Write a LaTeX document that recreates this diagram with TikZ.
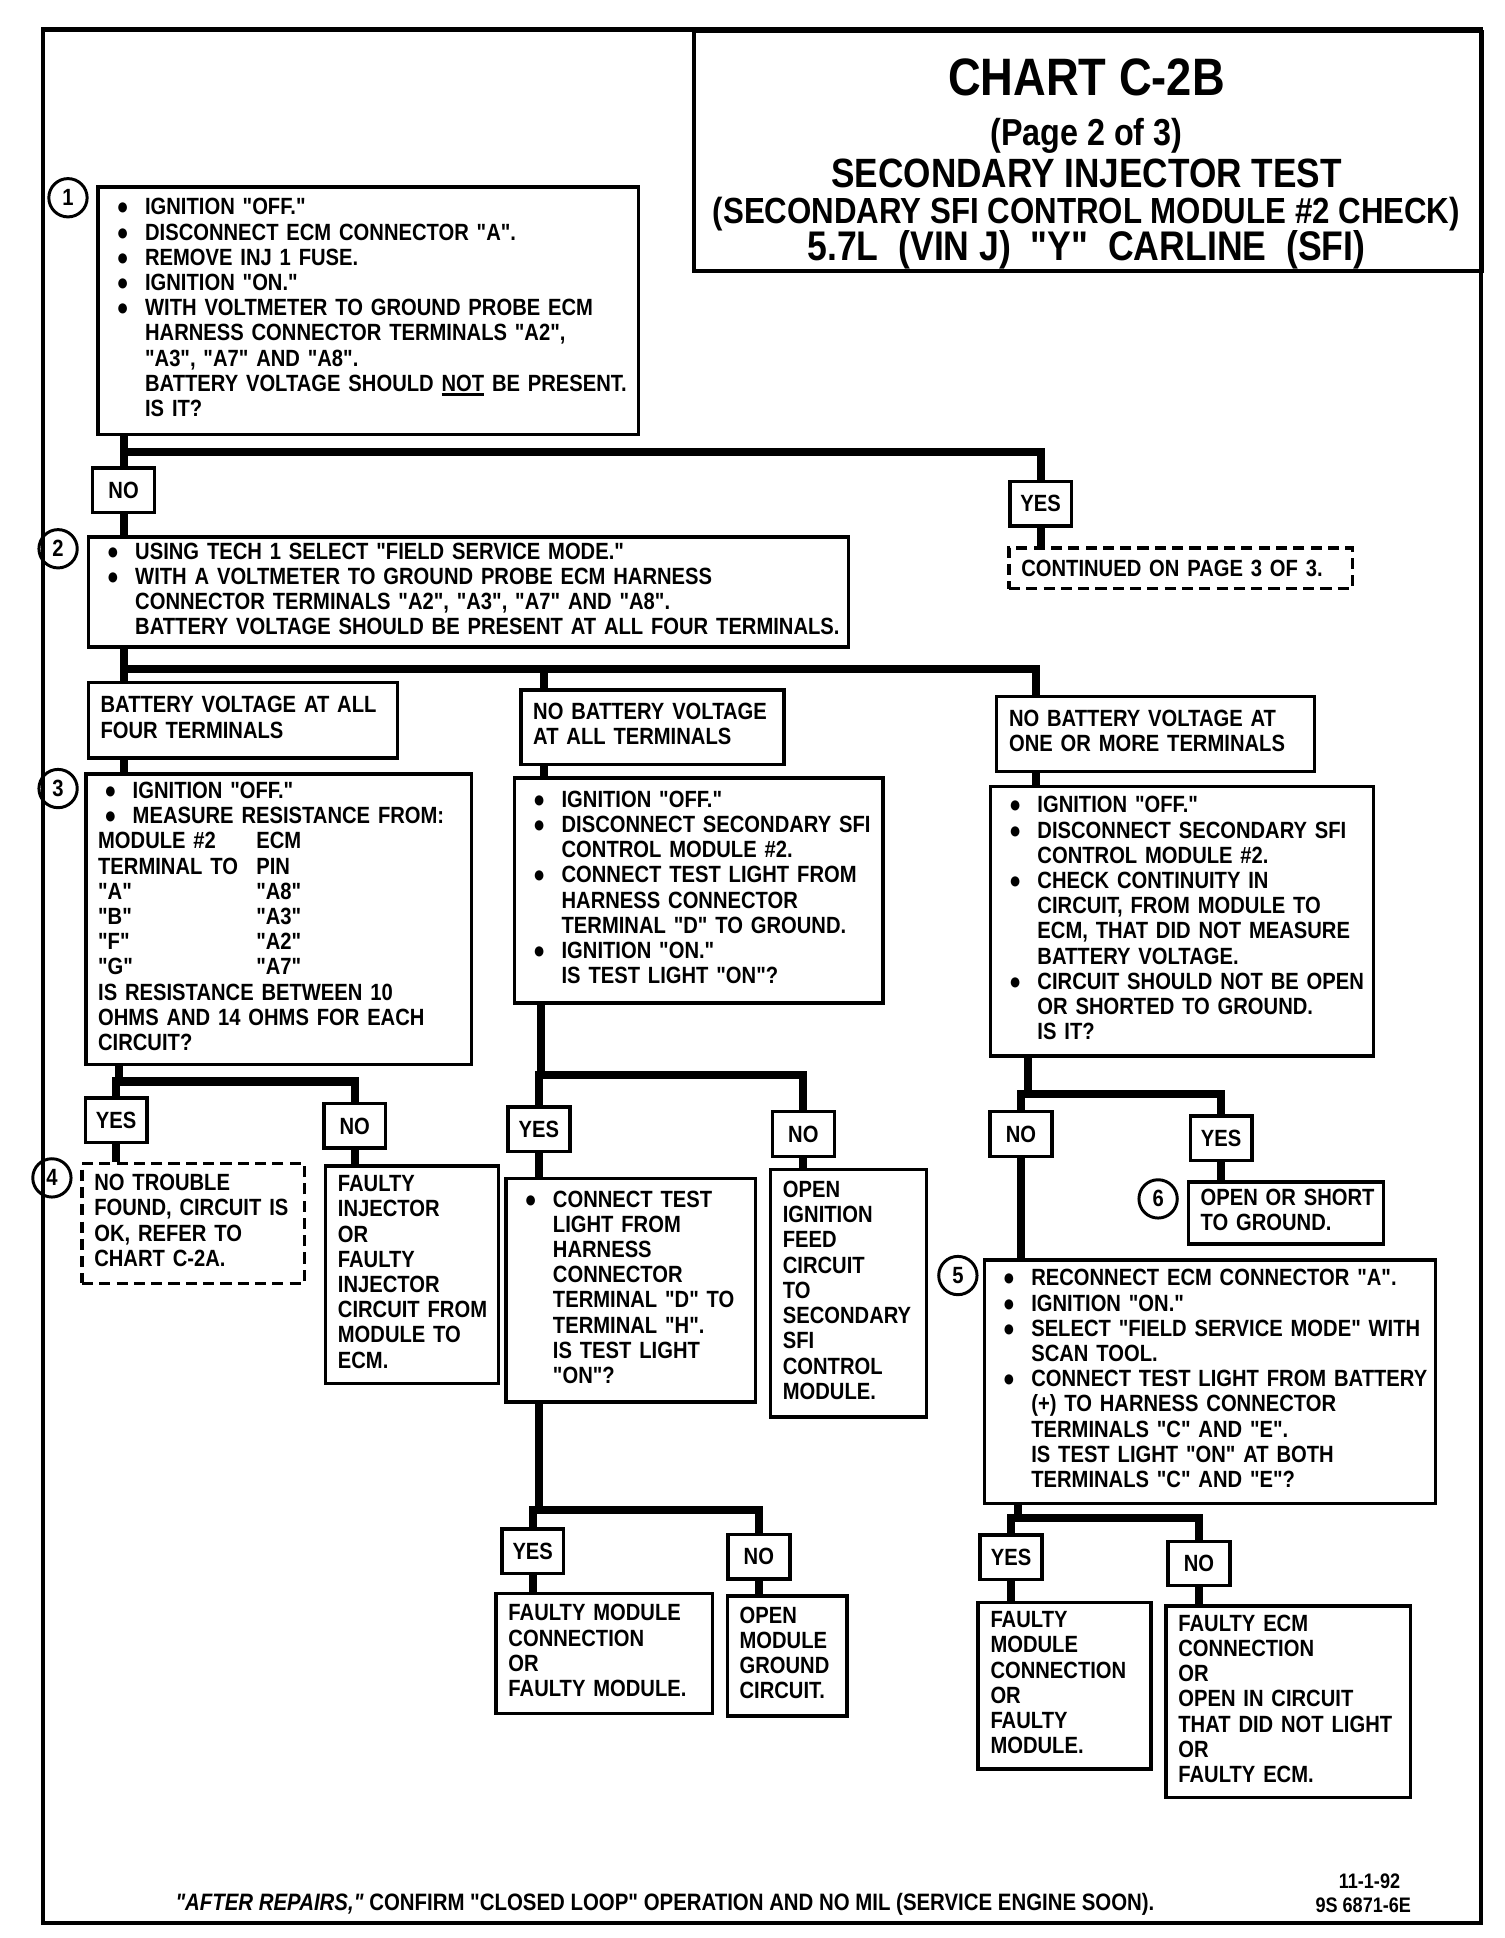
\documentclass[tikz,border=0pt]{standalone}
\usepackage{fontspec}
\setmainfont{Liberation Sans}[FakeStretch=0.86,Ligatures=TeXOff]

\newcommand{\boxfont}{\fontsize{19}{20.4}\selectfont\bfseries}
\newcommand{\dotm}{●}
\newcommand{\bul}[1]{\hspace*{5pt}\makebox[23pt][l]{\dotm}#1}
\newcommand{\ind}[1]{\hspace*{28pt}#1}
\newcommand{\stack}[1]{\begin{tabular}{@{}l@{}}#1\end{tabular}}
\newcommand{\undl}[1]{\setbox0=\hbox{#1}\rlap{\rule[-3.5pt]{\wd0}{2.2pt}}\box0\relax}

\begin{document}
\begin{tikzpicture}[x=1pt,y=-1pt,
    box/.style={draw,line width=2.8pt,anchor=north west,align=left,
      inner xsep=10pt,inner ysep=0pt,font=\boxfont},
    dbox/.style={box,line width=2.6pt,dash pattern=on 9pt off 5pt},
    yn/.style={draw,line width=2.8pt,minimum width=50pt,minimum height=36pt,
      inner sep=0pt,font=\boxfont},
    num/.style={draw,circle,line width=2.4pt,minimum size=31pt,inner sep=0pt,
      font=\fontsize{19}{19}\selectfont\bfseries},
    tree/.style={line width=6.5pt},
    ttl/.style={anchor=base,font=\bfseries}]
  \useasboundingbox (0,0) rectangle (1217,1568);
  \draw[line width=3.5pt] (35,24) rectangle (1198,1556);

  % title block
  \node[draw,line width=3pt,anchor=north west,minimum width=638pt,
    minimum height=194pt] (tbox) at (560,24) {};
  \node[ttl,font=\fontsize{42.6}{44}\selectfont\bfseries] (t1) at (879,77) {CHART C-2B};
  \node[ttl,font=\fontsize{30.4}{32}\selectfont\bfseries] (t2) at (879,118) {(Page 2 of 3)};
  \node[ttl,font=\fontsize{33.1}{34}\selectfont\bfseries] (t3) at (879,152) {SECONDARY INJECTOR TEST};
  \node[ttl,font=\fontsize{29.4}{30}\selectfont\bfseries] (t4) at (879,181) {(SECONDARY SFI CONTROL MODULE \#2 CHECK)};
  \node[ttl,font=\fontsize{33.5}{34}\selectfont\bfseries] (t5) at (879,211) {5.7L\ \ (VIN J)\ \ "Y"\ \ CARLINE\ \ (SFI)};

  % step 1
  \node[num] (n1) at (55,160) {1};
  \node[box,text width=417pt,minimum height=200pt] (b1) at (78,150) {\stack{
    \bul{IGNITION "OFF."}\\
    \bul{DISCONNECT ECM CONNECTOR "A".}\\
    \bul{REMOVE INJ 1 FUSE.}\\
    \bul{IGNITION "ON."}\\
    \bul{WITH VOLTMETER TO GROUND PROBE ECM}\\
    \ind{HARNESS CONNECTOR TERMINALS "A2",}\\
    \ind{"A3", "A7" AND "A8".}\\
    \ind{BATTERY VOLTAGE SHOULD \undl{NOT} BE PRESENT.}\\
    \ind{IS IT?}}};
  \node[yn] (no1) at (100,396.5) {NO};
  \node[yn] (yes1) at (842,407.5) {YES};
  \node[dbox,text width=258pt,minimum height=33pt] (cont) at (815,442)
    {CONTINUED ON PAGE 3 OF 3.};

  % step 2
  \node[num] (n2) at (47,444) {2};
  \node[box,text width=595pt,minimum height=89pt] (b2) at (70,433) {\stack{
    \bul{USING TECH 1 SELECT "FIELD SERVICE MODE."}\\
    \bul{WITH A VOLTMETER TO GROUND PROBE ECM HARNESS}\\
    \ind{CONNECTOR TERMINALS "A2", "A3", "A7" AND "A8".}\\
    \ind{BATTERY VOLTAGE SHOULD BE PRESENT AT ALL FOUR TERMINALS.}}};

  \node[box,text width=230pt,minimum height=61pt] (l1) at (70,551) {\stack{
    BATTERY VOLTAGE AT ALL\\FOUR TERMINALS}};
  \node[box,text width=193pt,minimum height=60pt] (m1) at (420,557) {\stack{
    NO BATTERY VOLTAGE\\AT ALL TERMINALS}};
  \node[box,text width=237pt,minimum height=61pt] (r1) at (805,562) {\stack{
    NO BATTERY VOLTAGE AT\\ONE OR MORE TERMINALS}};

  % step 3
  \node[num] (n3) at (47,638) {3};
  \node[box,text width=292pt,minimum height=235pt] (b3) at (68,625) {\stack{
    \bul{IGNITION "OFF."}\\
    \bul{MEASURE RESISTANCE FROM:}\\
    \makebox[128pt][l]{MODULE \#2}ECM\\
    \makebox[128pt][l]{TERMINAL TO}PIN\\
    \makebox[128pt][l]{"A"}"A8"\\
    \makebox[128pt][l]{"B"}"A3"\\
    \makebox[128pt][l]{"F"}"A2"\\
    \makebox[128pt][l]{"G"}"A7"\\
    IS RESISTANCE BETWEEN 10\\
    OHMS AND 14 OHMS FOR EACH\\
    CIRCUIT?}};
  \node[box,text width=278pt,minimum height=182pt] (b4) at (415,628) {\stack{
    \bul{IGNITION "OFF."}\\
    \bul{DISCONNECT SECONDARY SFI}\\
    \ind{CONTROL MODULE \#2.}\\
    \bul{CONNECT TEST LIGHT FROM}\\
    \ind{HARNESS CONNECTOR}\\
    \ind{TERMINAL "D" TO GROUND.}\\
    \bul{IGNITION "ON."}\\
    \ind{IS TEST LIGHT "ON"?}}};
  \node[box,text width=290pt,minimum height=218pt] (b5) at (800,635) {\stack{
    \bul{IGNITION "OFF."}\\
    \bul{DISCONNECT SECONDARY SFI}\\
    \ind{CONTROL MODULE \#2.}\\
    \bul{CHECK CONTINUITY IN}\\
    \ind{CIRCUIT, FROM MODULE TO}\\
    \ind{ECM, THAT DID NOT MEASURE}\\
    \ind{BATTERY VOLTAGE.}\\
    \bul{CIRCUIT SHOULD NOT BE OPEN}\\
    \ind{OR SHORTED TO GROUND.}\\
    \ind{IS IT?}}};

  % left column
  \node[yn] (yes3) at (94,906.5) {YES};
  \node[yn] (no3) at (287,911) {NO};
  \node[num] (n4) at (42,953) {4};
  \node[dbox,text width=160pt,minimum height=97pt] (ok4) at (65,940) {\stack{
    NO TROUBLE\\FOUND, CIRCUIT IS\\OK, REFER TO\\CHART C-2A.}};
  \node[box,text width=120pt,minimum height=176pt] (finj) at (262,942) {\stack{
    FAULTY\\INJECTOR\\OR\\FAULTY\\INJECTOR\\CIRCUIT FROM\\MODULE TO\\ECM.}};

  % middle column
  \node[yn] (yes4) at (436,913.5) {YES};
  \node[yn] (no4) at (650,917.5) {NO};
  \node[box,text width=182pt,minimum height=181pt] (conn) at (408,952) {\stack{
    \bul{CONNECT TEST}\\
    \ind{LIGHT FROM}\\
    \ind{HARNESS}\\
    \ind{CONNECTOR}\\
    \ind{TERMINAL "D" TO}\\
    \ind{TERMINAL "H".}\\
    \ind{IS TEST LIGHT}\\
    \ind{"ON"?}}};
  \node[box,text width=106pt,minimum height=200pt] (oign) at (622,945) {\stack{
    OPEN\\IGNITION\\FEED\\CIRCUIT\\TO\\SECONDARY\\SFI\\CONTROL\\MODULE.}};
  \node[yn] (yes5) at (431,1255) {YES};
  \node[yn] (no5) at (614,1259.5) {NO};
  \node[box,text width=155pt,minimum height=97pt] (fm1) at (400,1288) {\stack{
    FAULTY MODULE\\CONNECTION\\OR\\FAULTY MODULE.}};
  \node[box,text width=77pt,minimum height=97pt] (om) at (587,1290) {\stack{
    OPEN\\MODULE\\GROUND\\CIRCUIT.}};

  % right column
  \node[yn] (no6) at (826,917.5) {NO};
  \node[yn] (yes6) at (988,921) {YES};
  \node[num] (n6) at (937,970) {6};
  \node[box,text width=138pt,minimum height=50pt] (osh) at (960,955) {\stack{
    OPEN OR SHORT\\TO GROUND.}};
  \node[num] (n5) at (775,1032) {5};
  \node[box,text width=345pt,minimum height=197pt] (b6) at (795,1018) {\stack{
    \bul{RECONNECT ECM CONNECTOR "A".}\\
    \bul{IGNITION "ON."}\\
    \bul{SELECT "FIELD SERVICE MODE" WITH}\\
    \ind{SCAN TOOL.}\\
    \bul{CONNECT TEST LIGHT FROM BATTERY}\\
    \ind{(+) TO HARNESS CONNECTOR}\\
    \ind{TERMINALS "C" AND "E".}\\
    \ind{IS TEST LIGHT "ON" AT BOTH}\\
    \ind{TERMINALS "C" AND "E"?}}};
  \node[yn] (yes7) at (818,1260) {YES};
  \node[yn] (no7) at (970,1265) {NO};
  \node[box,text width=120pt,minimum height=135pt] (fm2) at (790,1295) {\stack{
    FAULTY\\MODULE\\CONNECTION\\OR\\FAULTY\\MODULE.}};
  \node[box,text width=178pt,minimum height=155pt] (fecm) at (942,1298) {\stack{
    FAULTY ECM\\CONNECTION\\OR\\OPEN IN CIRCUIT\\THAT DID NOT LIGHT\\OR\\FAULTY ECM.}};

  % connectors
  \coordinate (j1) at (100,366);
  \draw[tree] (b1.south -| j1) -- (j1) -| (yes1.north);
  \draw[tree] (j1) -- (no1.north);
  \draw[tree] (no1.south) -- (no1.south |- b2.north);
  \draw[tree] (yes1.south) -- (yes1.south |- cont.north);

  \coordinate (j2) at (100,541);
  \coordinate (j2m) at (440,541);
  \coordinate (j2r) at (838,541);
  \draw[tree] (b2.south -| j2) -- (j2) -- (j2r) -- (j2r |- r1.north);
  \draw[tree] (j2) -- (j2 |- l1.north);
  \draw[tree] (j2m) -- (j2m |- m1.north);
  \draw[tree] (l1.south -| j2) -- (j2 |- b3.north);
  \draw[tree] (m1.south -| j2m) -- (j2m |- b4.north);
  \draw[tree] (r1.south -| j2r) -- (j2r |- b5.north);

  \coordinate (j3l) at (96,875);
  \draw[tree] (b3.south -| j3l) -- (j3l) -| (no3.north);
  \draw[tree] (yes3.north) |- (j3l);
  \draw[tree] (yes3.south) -- (yes3.south |- ok4.north);
  \draw[tree] (no3.south) -- (no3.south |- finj.north);

  \coordinate (j3m) at (438,870);
  \draw[tree] (b4.south -| j3m) -- (j3m) -| (no4.north);
  \draw[tree] (yes4.north) |- (j3m);
  \draw[tree] (yes4.south) -- (yes4.south |- conn.north);
  \draw[tree] (no4.south) -- (no4.south |- oign.north);

  \coordinate (j4m) at (436,1222);
  \draw[tree] (conn.south -| j4m) -- (j4m) -| (no5.north);
  \draw[tree] (yes5.north) |- (j4m);
  \draw[tree] (yes5.south) -- (yes5.south |- fm1.north);
  \draw[tree] (no5.south) -- (no5.south |- om.north);

  \coordinate (j3r) at (832,885);
  \draw[tree] (b5.south -| j3r) -- (j3r) -| (yes6.north);
  \draw[tree] (no6.north) |- (j3r);
  \draw[tree] (no6.south) -- (no6.south |- b6.north);
  \draw[tree] (yes6.south) -- (yes6.south |- osh.north);

  \coordinate (j4r) at (824,1228);
  \draw[tree] (b6.south -| j4r) -- (j4r) -| (no7.north);
  \draw[tree] (yes7.north) |- (j4r);
  \draw[tree] (yes7.south) -- (yes7.south |- fm2.north);
  \draw[tree] (no7.south) -- (no7.south |- fecm.north);

  % footer
  \node[anchor=base,font=\fontsize{19.2}{20}\selectfont\bfseries] (foot) at (538,1546)
    {\textit{"AFTER REPAIRS,"} CONFIRM "CLOSED LOOP" OPERATION AND NO MIL (SERVICE ENGINE SOON).};
  \node[anchor=base,font=\fontsize{17}{18}\selectfont\bfseries] (date) at (1108,1528) {11-1-92};
  \node[anchor=base,font=\fontsize{17}{18}\selectfont\bfseries] (code) at (1103,1547) {9S 6871-6E};
\end{tikzpicture}
\end{document}
